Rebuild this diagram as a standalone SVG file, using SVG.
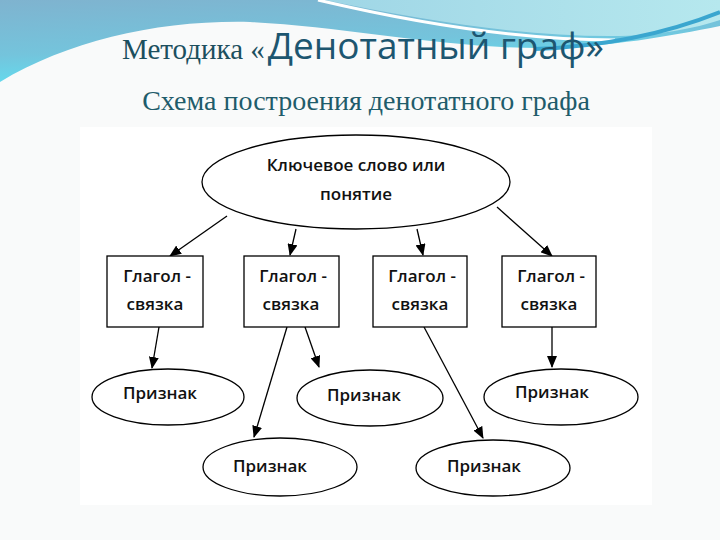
<svg xmlns="http://www.w3.org/2000/svg" width="720" height="540" viewBox="0 0 720 540">
<defs>
<linearGradient id="gBlue" x1="0" y1="0" x2="0.35" y2="1">
<stop offset="0" stop-color="#7fb3cf"/>
<stop offset="0.6" stop-color="#74c4dc"/>
<stop offset="1" stop-color="#5fe0f2"/>
</linearGradient>
<linearGradient id="gLight" x1="0" y1="0" x2="1" y2="0">
<stop offset="0" stop-color="#9fd6e6"/>
<stop offset="1" stop-color="#b6e8ee"/>
</linearGradient>
<marker id="arr" markerUnits="userSpaceOnUse" markerWidth="12" markerHeight="10" refX="11" refY="5" orient="auto">
<path d="M0,0 L12,5 L0,10 Z" fill="#000"/>
</marker>
<style>
.shape{fill:#fff;stroke:#000;stroke-width:1.3}
.lbl{font-family:"Open Sans","Noto Sans","DejaVu Sans",sans-serif;font-weight:600;font-size:17px;fill:#111;text-anchor:middle}
.con{stroke:#000;stroke-width:1.3;fill:none;marker-end:url(#arr)}
</style>
</defs>
<rect width="720" height="540" fill="#f9fafa"/>
<g id="background">
<path d="M0,0 H720 V26 C670,36 610,47 545,48 C450,49 340,26 250,22 C160,20 70,40 0,82 Z" fill="url(#gBlue)"/>
<path d="M325,0 C420,20 520,36 610,36 C660,36 695,28 720,20 V0 Z" fill="url(#gLight)"/>
<path d="M318,0 C420,24 520,40 615,40" stroke="#ffffff" stroke-width="3" fill="none"/>
<path d="M535,49 C610,46 670,32 720,12" stroke="#3aa6cf" stroke-width="4" fill="none"/>
<rect x="80" y="127" width="572" height="378" fill="#ffffff"/>
</g>
<g id="title">
<text x="122" y="59" font-family="'Liberation Serif',serif" font-size="29" fill="#1c4f5e">Методика «<tspan dx="3" font-family="'Open Sans','Noto Sans',sans-serif" font-size="37" fill="#1d5670">Денотатный граф»</tspan></text>
<text x="366" y="110" font-family="'Liberation Serif',serif" font-size="28" fill="#1f5c6b" text-anchor="middle">Схема построения денотатного графа</text>
</g>
<g id="connectors">
<line class="con" x1="227" y1="216" x2="170" y2="256"/>
<line class="con" x1="296" y1="229" x2="290" y2="255"/>
<line class="con" x1="417" y1="229" x2="423" y2="255"/>
<line class="con" x1="497" y1="207" x2="552" y2="256"/>
<line class="con" x1="159" y1="327" x2="152" y2="368"/>
<line class="con" x1="287" y1="327" x2="254" y2="437"/>
<line class="con" x1="305" y1="327" x2="319" y2="367"/>
<line class="con" x1="424" y1="327" x2="483" y2="438"/>
<line class="con" x1="552" y1="327" x2="552" y2="367"/>
</g>
<g id="key">
<ellipse class="shape" cx="356" cy="182" rx="154" ry="47"/>
<text class="lbl" x="356" y="171" font-size="18">Ключевое слово или</text>
<text class="lbl" x="356" y="200" font-size="18">понятие</text>
</g>
<g id="verb1">
<rect class="shape" x="107" y="256" width="96" height="71"/>
<text class="lbl" x="157" y="282">Глагол -</text>
<text class="lbl" x="155" y="310">связка</text>
</g>
<g id="verb2">
<rect class="shape" x="244" y="256" width="95" height="71"/>
<text class="lbl" x="293" y="282">Глагол -</text>
<text class="lbl" x="291" y="310">связка</text>
</g>
<g id="verb3">
<rect class="shape" x="373" y="256" width="94" height="71"/>
<text class="lbl" x="422" y="282">Глагол -</text>
<text class="lbl" x="420" y="310">связка</text>
</g>
<g id="verb4">
<rect class="shape" x="502" y="256" width="94" height="71"/>
<text class="lbl" x="551" y="282">Глагол -</text>
<text class="lbl" x="549" y="310">связка</text>
</g>
<g id="sign1">
<ellipse class="shape" cx="168" cy="397" rx="76" ry="28"/>
<text class="lbl" x="160" y="399">Признак</text>
</g>
<g id="sign2">
<ellipse class="shape" cx="370" cy="398" rx="73" ry="28"/>
<text class="lbl" x="364" y="401">Признак</text>
</g>
<g id="sign3">
<ellipse class="shape" cx="280" cy="467" rx="77" ry="29"/>
<text class="lbl" x="270" y="472">Признак</text>
</g>
<g id="sign4">
<ellipse class="shape" cx="493" cy="468" rx="77" ry="28"/>
<text class="lbl" x="484" y="472">Признак</text>
</g>
<g id="sign5">
<ellipse class="shape" cx="561" cy="397" rx="77" ry="28"/>
<text class="lbl" x="552" y="398">Признак</text>
</g>
</svg>
